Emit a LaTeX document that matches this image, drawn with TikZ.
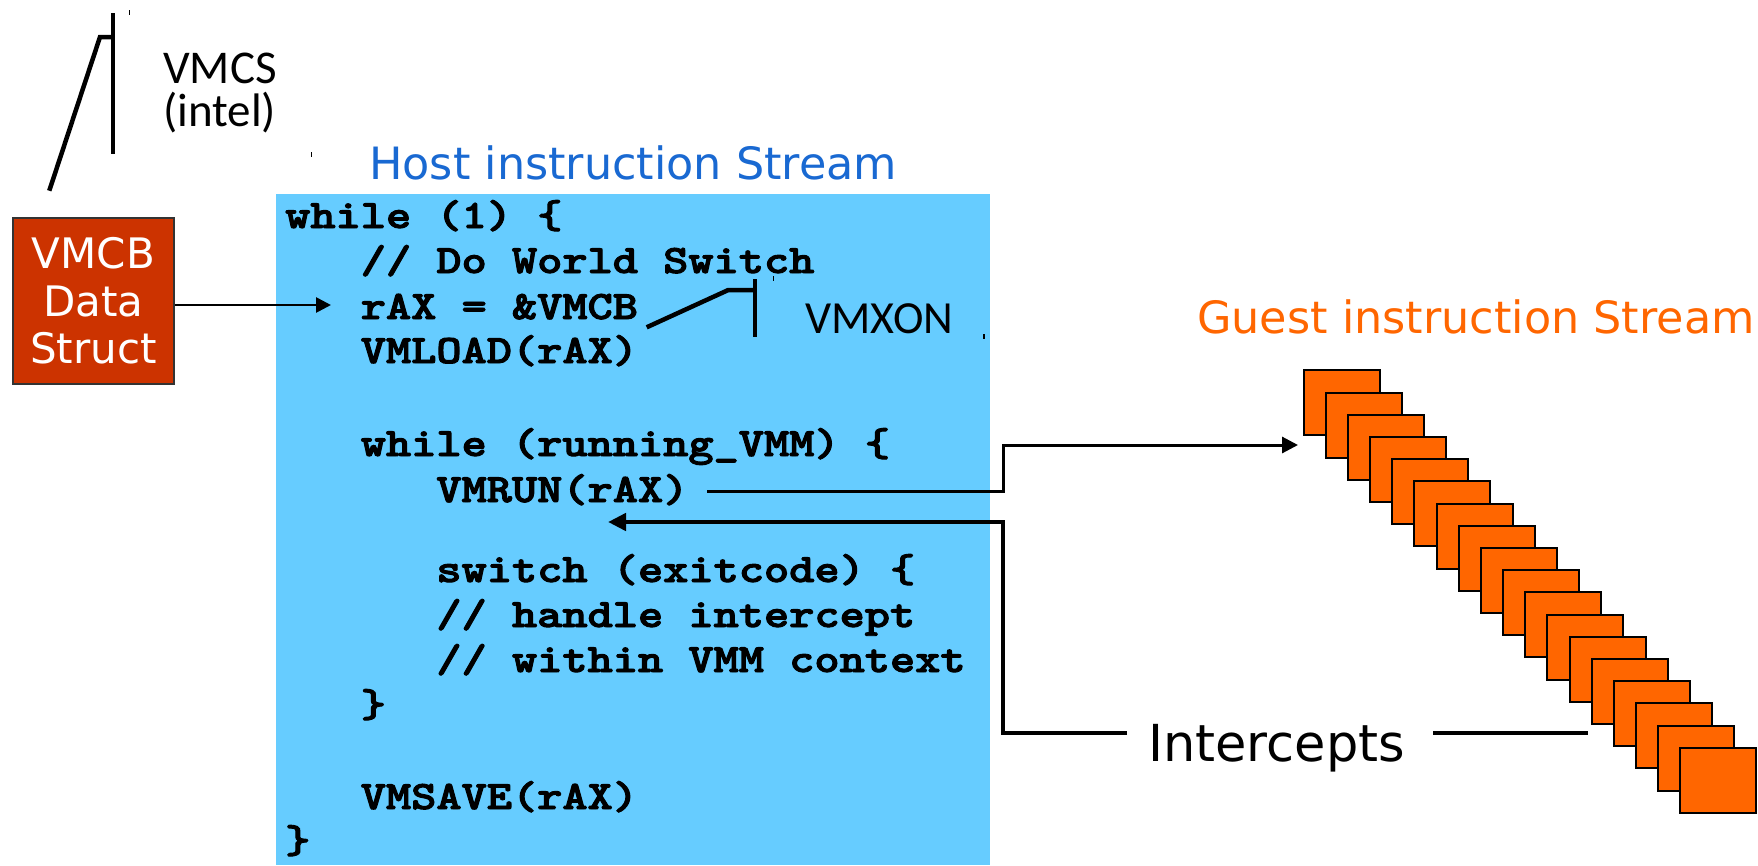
\documentclass[tikz,border=0pt]{standalone}
\usepackage{fontspec}
\setmainfont{DejaVu Sans}
\newfontfamily\calfont{Carlito}
\usetikzlibrary{arrows.meta}

\definecolor{hostblue}{RGB}{102,204,255}
\definecolor{titleblue}{RGB}{25,105,210}
\definecolor{guestorange}{RGB}{255,102,0}
\definecolor{vmcbred}{RGB}{204,51,0}

% bold typewriter line: squeezed vertically to Courier proportions and
% given a heavier stroke (fill + stroke text rendering)
\newcommand{\codeline}[1]{\scalebox{1}[0.84]{%
  \special{pdf:literal direct 2 Tr 1.1 w}#1\special{pdf:literal direct 0 Tr}}}

\begin{document}
\begin{tikzpicture}[x=1pt,y=-1pt,
  code/.style={anchor=base west, inner sep=0pt,
    font={\ttfamily\bfseries\fontsize{48}{50}\selectfont}},
  title/.style={anchor=base west, inner sep=0pt,
    font={\fontsize{44.5}{50}\selectfont}},
  calltext/.style={anchor=base west, inner sep=0pt,
    font={\calfont\fontsize{47}{50}\selectfont}},
  callout/.style={line width=4.5pt, line join=miter},
  tick/.style={line width=1.2pt},
  flowthin/.style={line width=3pt, -{Triangle[length=16pt,width=16pt]}},
  flowthick/.style={line width=4.5pt, -{Triangle[length=18pt,width=17pt]}},
  plainthick/.style={line width=4.5pt},
  frame/.style={draw=black, line width=2pt, fill=guestorange,
    minimum width=76pt, minimum height=65pt, inner sep=0pt, anchor=north west}
]
\useasboundingbox (0,0) rectangle (1758,865);
\fill[white] (0,0) rectangle (1758,865);

% host code panel
\fill[hostblue] (276,194) rectangle (990,865);
\node[title, text=titleblue] (hosttitle) at (369,179) {Host instruction Stream};

\node[code] (c1)  at (285,228)   {\codeline{while (1) \{}};
\node[code] (c2)  at (360.6,273) {\codeline{// Do World Switch}};
\node[code] (c3)  at (360.6,319) {\codeline{rAX = \&VMCB}};
\node[code] (c4)  at (360.6,363) {\codeline{VMLOAD(rAX)}};
\node[code] (c5)  at (360.6,456) {\codeline{while (running\_VMM) \{}};
\node[code] (c6)  at (436.2,502) {\codeline{VMRUN(rAX)}};
\node[code] (c7)  at (436.2,582) {\codeline{switch (exitcode) \{}};
\node[code] (c8)  at (436.2,627) {\codeline{// handle intercept}};
\node[code] (c9)  at (436.2,672) {\codeline{// within VMM context}};
\node[code] (c10) at (360.6,717) {\codeline{\}}};
\node[code] (c11) at (360.6,809) {\codeline{VMSAVE(rAX)}};
\node[code] (c12) at (285,853)   {\codeline{\}}};

% VMCB data structure
\node[draw=black!80, line width=2.5pt, fill=vmcbred, text=white,
  minimum width=161pt, minimum height=166pt, inner sep=0pt, align=center,
  font={\fontsize{42}{47.5}\selectfont}] (vmcb) at (93.3,300.8)
  {VMCB\\Data\\Struct};
\coordinate (vmcbout) at (vmcb.east |- 0,305);
\coordinate (vmcbtip) at (331,305);
\draw[line width=2.7pt, -{Triangle[length=15pt,width=15pt]}] (vmcbout) -- (vmcbtip);

% VMCS callout
\node[calltext] (vmcs) at (163,83) {VMCS};
\node[calltext] (intel) at (163,126) {(intel)};
\coordinate (vmcsfoot) at (49.3,190.7);
\coordinate (vmcsknee) at (100,37);
\coordinate (vmcsbarmid) at (113,37);
\draw[callout] (vmcsfoot) -- (vmcsknee) -- (vmcsbarmid);
\draw[callout] (113,13) -- (113,154);
\draw[tick] (129.3,10) -- (129.3,15);
\draw[tick] (311.7,152) -- (311.7,157);

% VMXON callout
\node[anchor=base west, inner sep=0pt, font={\calfont\fontsize{46}{50}\selectfont}]
  (vmxon) at (805,333) {VMXON};
\coordinate (vmxfoot) at (646.7,327.3);
\coordinate (vmxknee) at (728.3,290);
\coordinate (vmxbarmid) at (755,290);
\draw[callout] (vmxfoot) -- (vmxknee) -- (vmxbarmid);
\draw[callout] (755,279) -- (755,337);
\draw[tick] (773.3,276) -- (773.3,281);
\draw[tick] (984,334) -- (984,339);

% guest instruction stream
\node[title, text=guestorange] (guesttitle) at (1197,333) {Guest instruction Stream};
\foreach \k in {0,...,17} {
  \node[frame] (s\k) at ({1302.7+22.15*\k},{369.3+22.2*\k}) {};
}

% VMRUN enters the guest
\coordinate (runout) at (707,491);
\coordinate (runcorner) at (1003,445);
\coordinate (runtip) at (1298,445);
\draw[flowthin] (runout) -| (runcorner) -- (runtip);

% intercepts return to the host
\node[anchor=base west, inner sep=0pt, font={\fontsize{51}{55}\selectfont}]
  (intercepts) at (1148,761) {Intercepts};
\coordinate (retstart) at (1127,733);
\coordinate (retcorner) at (1003,522);
\coordinate (rettip) at (608,522);
\draw[flowthick] (retstart) -| (retcorner) -- (rettip);
\coordinate (guestline) at (1433,733);
\coordinate (guestlineend) at (1588,733);
\draw[plainthick] (guestline) -- (guestlineend);
\end{tikzpicture}
\end{document}
